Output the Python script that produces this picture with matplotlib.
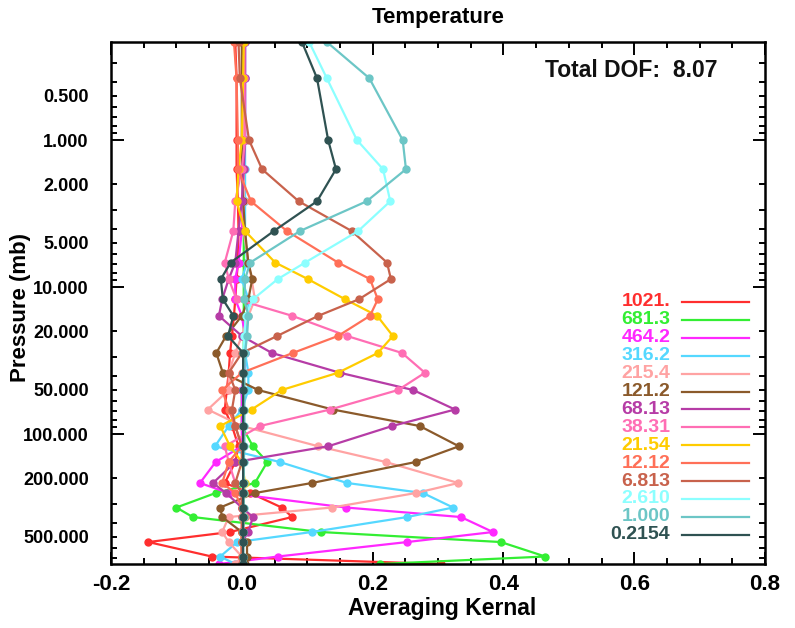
import matplotlib
matplotlib.use("Agg")
import matplotlib.pyplot as plt
from matplotlib.ticker import LogLocator, FuncFormatter, MultipleLocator
import numpy as np

plt.rcParams['font.family'] = ['Liberation Sans', 'DejaVu Sans']
plt.rcParams['font.weight'] = 'bold'

# pressure grid (mb) of the kernel points, top to bottom
pressure = [0.2154, 0.38, 1.0, 1.58, 2.61, 4.16, 6.813, 8.83, 12.12, 15.7, 21.54, 28.1, 38.31,
            50.2, 68.13, 88.2, 121.2, 155.0, 215.4, 252.0, 316.2, 367.0, 464.2, 543.0, 681.3, 766.0]

labels = ["1021.", "681.3", "464.2", "316.2", "215.4", "121.2", "68.13", "38.31",
          "21.54", "12.12", "6.813", "2.610", "1.000", "0.2154"]
colors = ["#ff2e2e", "#33ee33", "#ff28ff", "#55d8ff", "#ffa3a3", "#8b5a2b", "#b63ca6",
          "#ff6eb4", "#ffcc00", "#ff7058", "#c8624c", "#8cffff", "#6cc6c6", "#2f5252"]

ak_1021 = [-0.010, -0.008, -0.008, -0.008, -0.006, -0.005, -0.006, -0.008, -0.010, -0.012, -0.015, -0.018,
           -0.020, -0.023, -0.026, -0.015, -0.005, -0.010, -0.026, 0.013, 0.061, 0.077, -0.018, -0.143, -0.046, 0.305]
ak_681 = [0.003, 0.003, 0.003, 0.003, 0.003, 0.003, 0.003, 0.003, 0.003, 0.003, 0.003, 0.003,
          0.003, 0.000, 0.000, 0.000, 0.017, 0.039, 0.020, -0.040, -0.100, -0.075, 0.121, 0.396, 0.464, 0.211]
ak_464 = [0.005, 0.005, 0.005, 0.004, 0.003, 0.000, -0.005, -0.010, -0.010, 0.000, 0.005, 0.005,
          0.004, 0.000, 0.000, 0.000, 0.000, -0.040, -0.064, -0.020, 0.159, 0.335, 0.384, 0.253, 0.055, -0.035]
ak_316 = [0.005, 0.005, 0.005, 0.005, 0.005, 0.005, 0.008, 0.000, 0.010, 0.010, 0.005, 0.005,
          0.010, 0.010, 0.000, -0.020, -0.041, 0.058, 0.161, 0.277, 0.323, 0.253, 0.107, -0.007, -0.033, -0.010]
ak_215 = [0.003, 0.003, 0.003, 0.003, 0.003, 0.003, 0.010, 0.015, 0.020, 0.010, 0.000, -0.010,
          -0.020, -0.020, -0.052, 0.000, 0.117, 0.220, 0.331, 0.266, 0.138, -0.020, -0.030, -0.020, 0.000, -0.010]
ak_121 = [0.000, 0.000, 0.000, 0.000, 0.002, 0.005, 0.010, 0.016, 0.010, 0.000, -0.024, -0.039,
          -0.029, 0.025, 0.139, 0.272, 0.332, 0.266, 0.107, 0.020, -0.033, -0.030, 0.000, 0.008, 0.008, 0.005]
ak_68 = [0.005, 0.005, 0.005, 0.003, 0.000, -0.005, -0.010, -0.020, -0.030, -0.035, 0.000, 0.046,
         0.150, 0.262, 0.326, 0.230, 0.132, -0.010, -0.044, -0.024, 0.000, 0.017, 0.010, 0.000, 0.000, 0.000]
ak_38 = [0.004, 0.004, 0.005, 0.000, -0.010, -0.013, -0.026, -0.020, -0.008, 0.077, 0.161, 0.245,
         0.280, 0.239, 0.135, 0.028, -0.026, -0.020, -0.010, 0.000, 0.000, 0.000, 0.000, 0.000, 0.000, 0.000]
ak_21 = [0.003, 0.002, 0.000, -0.005, -0.008, 0.005, 0.051, 0.101, 0.158, 0.207, 0.231, 0.208,
         0.147, 0.061, 0.015, -0.033, -0.018, 0.000, 0.005, 0.003, 0.002, 0.002, 0.000, 0.000, 0.000, 0.000]
ak_12 = [-0.012, -0.008, -0.006, -0.006, 0.014, 0.069, 0.147, 0.196, 0.208, 0.196, 0.147, 0.078,
         0.000, -0.030, -0.020, -0.010, 0.000, -0.020, -0.030, -0.010, 0.000, 0.005, 0.000, 0.000, 0.000, 0.000]
ak_6 = [-0.005, -0.003, 0.011, 0.031, 0.087, 0.168, 0.222, 0.228, 0.179, 0.117, 0.054, 0.000,
        -0.020, -0.010, -0.015, -0.010, 0.000, 0.000, -0.010, 0.000, 0.000, 0.000, 0.000, 0.000, 0.000, 0.000]
ak_2p6 = [0.103, 0.130, 0.176, 0.216, 0.227, 0.178, 0.097, 0.055, 0.017, 0.006, 0.004, 0.002,
          0.002, 0.002, 0.002, 0.002, 0.002, 0.002, 0.002, 0.002, 0.002, 0.002, 0.002, 0.002, 0.002, 0.002]
ak_1 = [0.130, 0.195, 0.246, 0.251, 0.191, 0.089, 0.013, 0.005, 0.004, 0.010, 0.008, 0.005,
        0.004, 0.004, 0.004, 0.004, 0.004, 0.003, 0.003, 0.003, 0.003, 0.003, 0.002, 0.002, 0.002, 0.002]
ak_0p2 = [0.092, 0.115, 0.132, 0.144, 0.115, 0.049, -0.017, -0.032, -0.029, -0.013, -0.021, 0.002,
          0.002, 0.002, 0.002, 0.002, 0.002, 0.002, 0.002, 0.002, 0.002, 0.002, 0.002, 0.002, 0.002, 0.002]

kernels = [ak_1021, ak_681, ak_464, ak_316, ak_215, ak_121, ak_68, ak_38,
           ak_21, ak_12, ak_6, ak_2p6, ak_1, ak_0p2]

ytick_vals = [0.5, 1, 2, 5, 10, 20, 50, 100, 200, 500]
dof_text = "Total DOF:  8.07"

W, H = 795, 628
fig = plt.figure(figsize=(W / 100, H / 100), dpi=100)
ax = fig.add_axes([111 / W, 1 - 564 / H, 654 / W, 522 / H])

for vals, col in zip(kernels, colors):
    ax.plot(vals, pressure, color=col, lw=1.6, marker='o', ms=5, mec=col, mfc=col)

ax.set_yscale('log')
ax.set_ylim(766, 0.2154)
ax.set_xlim(-0.2, 0.8)

ax.xaxis.set_major_locator(MultipleLocator(0.2))
ax.xaxis.set_minor_locator(MultipleLocator(0.05))
ax.xaxis.set_major_formatter(FuncFormatter(lambda v, p: f"{v:.1f}"))

ax.yaxis.set_major_locator(LogLocator(base=10, subs=(1.0,)))
ax.yaxis.set_minor_locator(LogLocator(base=10, subs=np.arange(2, 10)))


def yfmt(v, p):
    for t in ytick_vals:
        if abs(v - t) / t < 1e-6:
            return f"{t:.3f}"
    return ""


ax.yaxis.set_major_formatter(FuncFormatter(yfmt))
ax.yaxis.set_minor_formatter(FuncFormatter(yfmt))

ax.tick_params(axis='both', which='both', direction='in', top=True, right=True, width=1.4)
ax.tick_params(axis='both', which='major', length=9)
ax.tick_params(axis='both', which='minor', length=4)
ax.tick_params(axis='x', which='both', labelsize=16, pad=7)
ax.tick_params(axis='y', which='both', labelsize=13, pad=16)
for lab in ax.get_xticklabels() + ax.get_yticklabels() + ax.get_yticklabels(minor=True):
    lab.set_fontweight('bold')
for s in ax.spines.values():
    s.set_linewidth(1.8)

# legend as coloured text plus line samples
for i, (lab, col) in enumerate(zip(labels, colors)):
    yf = (564 - (302 + i * 17.9)) / 522
    ax.text(0.855, yf, lab, transform=ax.transAxes, ha='right', va='center',
            color=col, fontsize=14, fontweight='bold')
    ax.plot([0.873, 0.976], [yf, yf], transform=ax.transAxes, color=col, lw=1.6)

ax.text(0.928, 0.946, dof_text, transform=ax.transAxes, ha='right', va='center',
        fontsize=16.5, fontweight='bold', color='#111111')

fig.text(438 / W, 1 - 18 / H, "Temperature", ha='center', va='center', fontsize=16, fontweight='bold')
fig.text(442 / W, 1 - 608 / H, "Averaging Kernal", ha='center', va='center', fontsize=16.5, fontweight='bold')
fig.text(21 / W, 1 - 307 / H, "Pressure (mb)", ha='center', va='center', rotation=90,
         fontsize=16, fontweight='bold')

fig.savefig("out.png", dpi=100)
